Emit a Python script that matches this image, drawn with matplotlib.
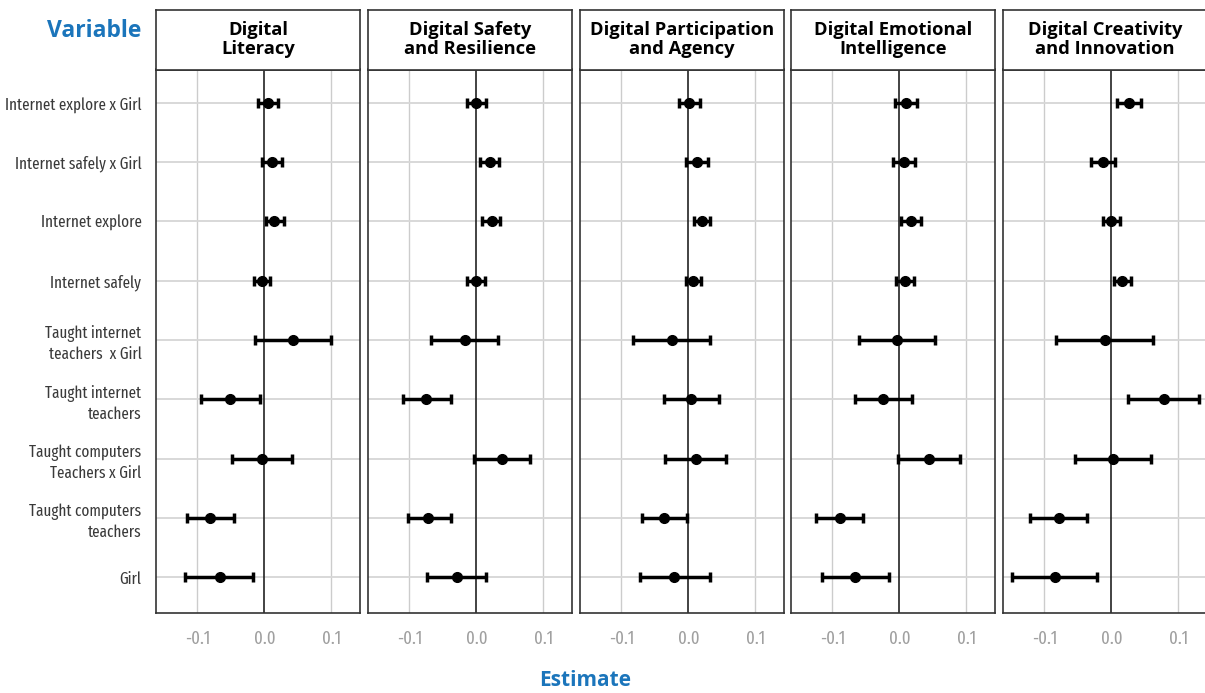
import numpy as np
import matplotlib.pyplot as plt

# variables, listed top to bottom
variables = [
    "Internet explore x Girl",
    "Internet safely x Girl",
    "Internet explore",
    "Internet safely",
    "Taught internet\nteachers  x Girl",
    "Taught internet\nteachers",
    "Taught computers\nTeachers x Girl",
    "Taught computers\nteachers",
    "Girl",
]

outcomes = [
    "Digital\nLiteracy",
    "Digital Safety\nand Resilience",
    "Digital Participation\nand Agency",
    "Digital Emotional\nIntelligence",
    "Digital Creativity\nand Innovation",
]

# point estimates and 95% CI bounds, same order as variables
literacy_est = [0.006, 0.011, 0.015, -0.003, 0.043, -0.051, -0.003, -0.081, -0.067]
literacy_lo = [-0.009, -0.003, 0.002, -0.016, -0.014, -0.094, -0.048, -0.116, -0.119]
literacy_hi = [0.021, 0.026, 0.029, 0.009, 0.099, -0.007, 0.042, -0.045, -0.017]

safety_est = [-0.001, 0.020, 0.023, -0.001, -0.017, -0.075, 0.038, -0.072, -0.029]
safety_lo = [-0.014, 0.006, 0.009, -0.014, -0.068, -0.109, -0.004, -0.102, -0.074]
safety_hi = [0.015, 0.034, 0.036, 0.013, 0.033, -0.038, 0.080, -0.038, 0.015]

particip_est = [0.001, 0.013, 0.021, 0.007, -0.025, 0.004, 0.011, -0.036, -0.021]
particip_lo = [-0.014, -0.003, 0.009, -0.004, -0.083, -0.037, -0.035, -0.070, -0.073]
particip_hi = [0.017, 0.029, 0.032, 0.019, 0.033, 0.046, 0.057, -0.002, 0.033]

emotional_est = [0.010, 0.007, 0.017, 0.008, -0.003, -0.024, 0.044, -0.088, -0.066]
emotional_lo = [-0.006, -0.009, 0.003, -0.005, -0.060, -0.067, -0.002, -0.124, -0.116]
emotional_hi = [0.027, 0.024, 0.032, 0.022, 0.053, 0.019, 0.091, -0.054, -0.016]

creativity_est = [0.026, -0.013, 0.000, 0.016, -0.010, 0.078, 0.002, -0.078, -0.085]
creativity_lo = [0.008, -0.031, -0.012, 0.004, -0.083, 0.025, -0.055, -0.121, -0.149]
creativity_hi = [0.045, 0.005, 0.013, 0.029, 0.063, 0.131, 0.059, -0.036, -0.022]

ests = [literacy_est, safety_est, particip_est, emotional_est, creativity_est]
los = [literacy_lo, safety_lo, particip_lo, emotional_lo, creativity_lo]
his = [literacy_hi, safety_hi, particip_hi, emotional_hi, creativity_hi]

xticks = [-0.1, 0.0, 0.1]
xticklabels = ["-0.1", "0.0", "0.1"]

blue = "#1b75bb"
W, H = 1205, 693
fig = plt.figure(figsize=(W / 100, H / 100), dpi=100)

narrow = ["Fira Sans Extra Condensed", "DejaVu Sans"]
bold_font = ["Open Sans", "DejaVu Sans"]

lefts = [156, 368, 580, 791, 1003]
pw = 204
head_top, head_bot, plot_bot = 9.5, 69.5, 613

y = np.arange(len(variables), 0, -1)

for i, left in enumerate(lefts):
    ax = fig.add_axes([left / W, (H - plot_bot) / H, pw / W, (plot_bot - head_bot) / H])
    est = np.array(ests[i])
    lo = np.array(los[i])
    hi = np.array(his[i])
    ax.set_xlim(-0.162, 0.143)
    ax.set_ylim(0.4, 9.56)
    for xv in (-0.1, 0.1):
        ax.axvline(xv, color="#cccccc", lw=1, zorder=0)
    for yv in y:
        ax.axhline(yv, color="#d6d6d6", lw=1.3, zorder=0)
    ax.axvline(0, color="#222222", lw=1.2, zorder=1)
    ax.errorbar(est, y, xerr=[est - lo, hi - est], fmt="o", color="black",
                ms=7, elinewidth=2.5, capsize=3.5, capthick=2.5, zorder=3)
    ax.set_xticks(xticks)
    ax.set_xticklabels(xticklabels, color="#a0a0a0", fontsize=13, family=narrow)
    ax.tick_params(axis="x", length=0, pad=12)
    ax.set_yticks(y)
    if i == 0:
        ax.set_yticklabels(variables, fontsize=11.8, color="#3a3a3a", family=narrow,
                           linespacing=1.35)
        ax.tick_params(axis="y", length=0, pad=10.5)
    else:
        ax.set_yticklabels([])
        ax.tick_params(axis="y", length=0)
    for s in ax.spines.values():
        s.set_color("#333333")
        s.set_linewidth(1.2)

    # strip header
    hx = fig.add_axes([left / W, (H - head_bot) / H, pw / W, (head_bot - head_top) / H])
    hx.set_xticks([])
    hx.set_yticks([])
    for s in hx.spines.values():
        s.set_color("#333333")
        s.set_linewidth(1.2)
    hx.text(0.5, 0.5, outcomes[i], ha="center", va="center", fontsize=13.2,
            fontweight="bold", family=bold_font, linespacing=1.12,
            transform=hx.transAxes)

fig.text(141 / W, 1 - 31 / H, "Variable", ha="right", va="center", color=blue,
         fontsize=16.5, fontweight="bold", family=bold_font)
fig.text(585 / W, 1 - 680 / H, "Estimate", ha="center", va="center", color=blue,
         fontsize=15, fontweight="bold", family=bold_font)

fig.savefig("out.png", dpi=100, facecolor="white")
